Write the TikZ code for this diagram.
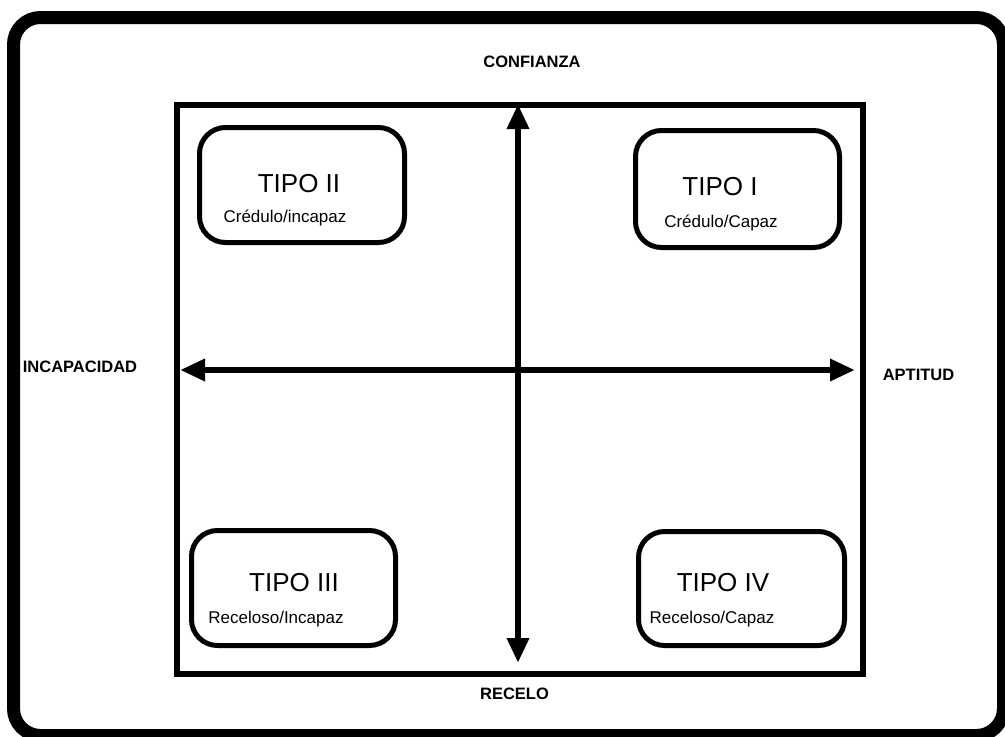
\documentclass[tikz,border=0pt]{standalone}
\usepackage{fontspec}
\setmainfont{Liberation Sans}
\usetikzlibrary{arrows.meta}
\tikzset{
  typebox/.style={draw, line width=5pt, rounded corners=26pt, inner sep=0pt},
  title/.style={anchor=base, inner sep=0pt, font=\fontsize{26}{30}\selectfont},
  subtitle/.style={anchor=base, inner sep=0pt, font=\fontsize{17}{20}\selectfont},
  axislabel/.style={anchor=base, inner sep=0pt, font=\bfseries\fontsize{16.5}{20}\selectfont},
  axis/.style={line width=6.5pt, {Triangle[length=25pt,width=21pt]}-{Triangle[length=25pt,width=21pt]}},
}
\begin{document}
\begin{tikzpicture}[x=1pt,y=-1pt]
\useasboundingbox (0,0) rectangle (1005,737);
% outer frame
\draw[line width=13pt, rounded corners=27pt] (13.5,17.5) rectangle (1003.5,735.5);
% quadrant square
\node[draw, line width=6.5pt, minimum width=686pt, minimum height=569pt, inner sep=0pt] (sq) at (520,389.5) {};
% axes
\coordinate (top) at (518,104);
\coordinate (bot) at (518,663);
\coordinate (lft) at (180,370);
\coordinate (rgt) at (855,370);
\draw[axis] (bot) -- (top);
\draw[axis] (lft) -- (rgt);
% type boxes
\node[typebox, minimum width=205pt, minimum height=115pt] (b2) at (302,185) {};
\node[typebox, minimum width=204pt, minimum height=117pt] (b1) at (737.5,189) {};
\node[typebox, minimum width=204pt, minimum height=115pt] (b3) at (293.5,588) {};
\node[typebox, minimum width=206pt, minimum height=114pt] (b4) at (741.5,588.5) {};
% texts
\node[title] (t2) at (299,192) {TIPO II};
\node[subtitle] (s2) at (285,222) {Crédulo/incapaz};
\node[title] (t1) at (720,195) {TIPO I};
\node[subtitle] (s1) at (721,227) {Crédulo/Capaz};
\node[title] (t3) at (294,591) {TIPO III};
\node[subtitle] (s3) at (276,623) {Receloso/Incapaz};
\node[title] (t4) at (723,591) {TIPO IV};
\node[subtitle] (s4) at (712,623) {Receloso/Capaz};
% axis labels
\node[axislabel] (conf) at (532,67.5) {CONFIANZA};
\node[axislabel] (inc) at (80,372) {INCAPACIDAD};
\node[axislabel] (apt) at (918.5,380) {APTITUD};
\node[axislabel] (rec) at (514.5,699) {RECELO};
\end{tikzpicture}
\end{document}
